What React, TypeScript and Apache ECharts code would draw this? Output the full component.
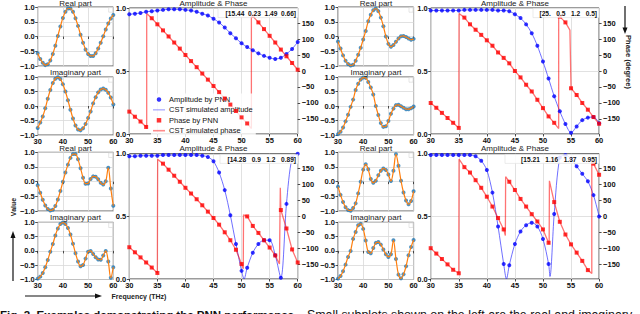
import React, { useEffect, useRef } from "react";
import * as echarts from "echarts";

// ---------- data ----------
const freq = [30,31,32,33,34,35,36,37,38,39,40,41,42,43,44,45,46,47,48,49,50,51,52,53,54,55,56,57,58,59,60];

// Panel A (top-left)
const realA = [-0.57,-0.76,-0.89,-0.97,-0.94,-0.81,-0.59,-0.31,0.02,0.34,0.63,0.84,0.95,0.95,0.84,0.62,0.36,0.06,-0.21,-0.44,-0.59,-0.66,-0.66,-0.57,-0.41,-0.21,0.01,0.24,0.44,0.61,0.73];
const imagA = [-0.76,-0.57,-0.36,-0.08,0.25,0.55,0.79,0.94,0.99,0.93,0.75,0.50,0.20,-0.13,-0.43,-0.67,-0.81,-0.84,-0.77,-0.62,-0.41,-0.19,0.09,0.30,0.47,0.57,0.60,0.56,0.46,0.29,0.05];
const ampA = [0.95,0.955,0.96,0.97,0.975,0.98,0.985,0.99,0.99,0.99,0.985,0.98,0.97,0.955,0.94,0.915,0.885,0.845,0.80,0.76,0.72,0.69,0.665,0.64,0.62,0.605,0.595,0.605,0.635,0.675,0.73];
const phaseA = [-127,-143,-158,-175,165,146,127,108,89,70,50,31,12,-8,-27,-47,-66,-86,-105,-125,-145,-164,172,152,131,110,89,67,46,25,4];
const ampExtraA: number[][] = [];
const phaseExtraA = [[33.1,-180],[33.1,180],[51.75,-180],[51.75,180]];
const paramsA = "[15.44  0.23  1.49  0.66]";

// Panel B (top-right)
const realB = [-0.17,-0.41,-0.64,-0.82,-0.93,-0.98,-0.96,-0.82,-0.62,-0.38,-0.10,0.19,0.52,0.74,0.89,0.95,0.86,0.64,0.35,0.0,-0.25,-0.35,-0.29,-0.18,-0.07,0.01,0.02,-0.02,-0.07,-0.11,-0.08];
const imagB = [-0.97,-0.89,-0.74,-0.53,-0.30,-0.03,0.22,0.55,0.77,0.91,0.98,0.97,0.83,0.64,0.40,0.0,-0.31,-0.59,-0.72,-0.70,-0.52,-0.27,-0.09,0.03,0.04,-0.01,-0.06,-0.11,-0.11,-0.08,-0.02];
const ampB = [0.98,0.98,0.98,0.98,0.98,0.98,0.985,0.985,0.985,0.985,0.985,0.985,0.98,0.98,0.975,0.95,0.92,0.87,0.80,0.70,0.575,0.44,0.30,0.18,0.08,0.01,0.06,0.11,0.13,0.135,0.085];
const phaseB = [-100,-115,-131,-147,-162,-178,167,146,129,113,96,79,58,41,24,0,-20,-43,-64,-90,-116,-142,-162,170,152,-54,-75,-100,-121,-144,-165];
const ampExtraB: number[][] = [];
const phaseExtraB = [[35.05,-180],[35.05,180],[52.8,-180],[52.8,180],[54.8,128]];
const paramsB = "[25.   0.5   1.2   0.5]";

// Panel C (bottom-left)
const realC = [-0.12,-0.38,-0.62,-0.81,-0.93,-0.98,-0.96,-0.83,-0.61,-0.32,0.0,0.31,0.58,0.81,0.94,0.94,0.76,0.46,0.13,-0.07,-0.06,0.09,0.18,0.17,0.08,-0.04,-0.10,0.01,0.47,-0.23,-0.82];
const imagC = [-0.97,-0.90,-0.77,-0.57,-0.32,-0.03,0.24,0.54,0.78,0.94,0.99,0.94,0.80,0.57,0.25,-0.08,-0.37,-0.54,-0.49,-0.27,-0.03,0.0,-0.11,-0.22,-0.30,-0.31,-0.16,0.0,-0.37,-0.94,-0.57];
const ampC = [0.98,0.98,0.985,0.985,0.985,0.985,0.99,0.99,0.99,0.99,0.99,0.99,0.99,0.985,0.975,0.94,0.85,0.71,0.51,0.28,0.065,0.09,0.21,0.28,0.31,0.31,0.19,0.01,0.60,0.97,1.0];
const phaseC = [-97,-113,-129,-145,-161,-178,166,147,128,109,90,72,54,35,15,-5,-26,-50,-75,-105,-150,0,-30,-52,-75,-98,-123,20,-38,-104,-145];
const ampExtraC = [[50.45,0.0]];
const phaseExtraC = [[35.05,-180],[35.05,180],[50.3,-165],[50.35,5],[56.75,-150],[56.9,90]];
const paramsC = "[14.28   0.9   1.2   0.89]";

// Panel D (bottom-right)
const realD = [-0.17,-0.45,-0.69,-0.87,-0.97,-0.99,-0.90,-0.74,-0.40,0.0,0.41,0.59,0.42,0.09,-0.04,0.03,0.22,0.37,0.45,0.40,0.24,0.02,0.37,0.93,0.54,0.03,-0.37,-0.64,-0.77,-0.66,-0.33];
const imagD = [-0.97,-0.88,-0.71,-0.48,-0.21,0.0,0.42,0.66,0.90,0.945,0.77,0.36,-0.04,-0.08,0.10,0.28,0.31,0.22,0.05,-0.12,-0.21,-0.12,0.37,-0.28,-0.83,-0.96,-0.82,-0.54,-0.15,0.14,0.38];
const ampD = [0.99,0.99,0.99,0.99,0.99,0.99,0.99,0.99,0.98,0.945,0.87,0.69,0.42,0.12,0.11,0.28,0.38,0.43,0.45,0.42,0.32,0.12,0.52,0.97,0.99,0.96,0.90,0.84,0.78,0.67,0.50];
const phaseD = [-100,-117,-134,-151,-168,-179,155,138,114,90,62,31,-5,-41,109,83,55,31,7,-16,-41,-83,45,-17,-57,-88,-114,-140,-169,166,131];
const ampExtraD = [[43.5,0.0],[51.25,0.02]];
const phaseExtraD = [[35.05,-180],[35.05,180],[43.3,-60],[43.35,125],[51.1,-88],[51.15,112],[58.7,-180],[58.7,180]];
const paramsD = "[15.21   1.16   1.37   0.95]";

const phaseTicks = [-150,-100,-50,0,50,100,150];
const legendNames = ["Amplitude by PNN","CST simulated amplitude","Phase by PNN","CST simulated phase"];

// ---------- helpers ----------
const FONT = "Liberation Sans, Arial, sans-serif";
const minus = (v: number, d: number) => (v < 0 ? "\u2212" : "") + Math.abs(v).toFixed(d);

function pairs(xs: number[], ys: number[]) {
  return xs.map((x, i) => [x, ys[i]]);
}
function merged(xs: number[], ys: number[], extra: number[][]) {
  const all = pairs(xs, ys).concat(extra);
  return all
    .map((p, i) => ({ p, i }))
    .sort((a, b) => a.p[0] - b.p[0] || a.i - b.i)
    .map((o) => o.p);
}

const panels = [
  { real: realA, imag: imagA, amp: ampA, phase: phaseA, ampX: ampExtraA, phX: phaseExtraA, params: paramsA,
    sx: 37.7, lx: 129.3, ry: 7, rh: 59, iy: 77, ih: 58, ly: 8, lh: 126, legend: true,
    box: [218, 8.6, 80, 9] },
  { real: realB, imag: imagB, amp: ampB, phase: phaseB, ampX: ampExtraB, phX: phaseExtraB, params: paramsB,
    sx: 338, lx: 430.7, ry: 7, rh: 59, iy: 77, ih: 58, ly: 8, lh: 126, legend: false,
    box: [533, 8.6, 66, 9] },
  { real: realC, imag: imagC, amp: ampC, phase: phaseC, ampX: ampExtraC, phX: phaseExtraC, params: paramsC,
    sx: 37.7, lx: 129.3, ry: 152.3, rh: 58.7, iy: 222.3, ih: 57.2, ly: 153.8, lh: 125.2, legend: false,
    box: [220, 154.4, 78, 9] },
  { real: realD, imag: imagD, amp: ampD, phase: phaseD, ampX: ampExtraD, phX: phaseExtraD, params: paramsD,
    sx: 338, lx: 430.7, ry: 152.3, rh: 58.7, iy: 222.3, ih: 57.2, ly: 153.8, lh: 125.2, legend: false,
    box: [505, 154.4, 94, 9] },
];

function buildOption() {
  const grid: any[] = [];
  const xAxis: any[] = [];
  const yAxis: any[] = [];
  const series: any[] = [];
  const graphic: any[] = [];
  const tickLabel = { fontSize: 7.5, fontWeight: "bold", fontFamily: FONT, color: "#111" };
  const split = { show: true, lineStyle: { color: "#d9d9d9", width: 0.8 } };
  const tick = { show: true, inside: false, length: 2.5, lineStyle: { color: "#222", width: 0.8 } };

  panels.forEach((P, p) => {
    const g0 = p * 3;
    const y0 = p * 4;
    const smallW = 75.6;
    const largeW = 168.4;
    grid.push({ left: P.sx, top: P.ry, width: smallW, height: P.rh, show: true, borderColor: "#333", borderWidth: 0.8, backgroundColor: "transparent" });
    grid.push({ left: P.sx, top: P.iy, width: smallW, height: P.ih, show: true, borderColor: "#333", borderWidth: 0.8, backgroundColor: "transparent" });
    grid.push({ left: P.lx, top: P.ly, width: largeW, height: P.lh, show: true, borderColor: "#222", borderWidth: 0.9, backgroundColor: "transparent" });

    [0, 1].forEach((k) => {
      xAxis.push({
        type: "value", gridIndex: g0 + k, min: 30, max: 60, interval: 10,
        axisLine: { show: false }, axisTick: tick, splitLine: split,
        axisLabel: { show: k === 1, margin: 2, ...tickLabel },
      });
      yAxis.push({
        type: "value", gridIndex: g0 + k, min: -1, max: 1, interval: 0.5,
        axisLine: { show: false }, axisTick: tick, splitLine: split,
        axisLabel: { margin: 3, formatter: (v: number) => minus(v, 1), ...tickLabel },
      });
    });
    xAxis.push({
      type: "value", gridIndex: g0 + 2, min: 30, max: 60, interval: 5,
      axisLine: { show: false }, axisTick: tick, splitLine: split,
      axisLabel: { margin: 2, ...tickLabel },
    });
    yAxis.push({
      type: "value", gridIndex: g0 + 2, min: 0, max: 1, interval: 0.5, position: "left",
      axisLine: { show: false }, axisTick: tick, splitLine: split,
      axisLabel: { margin: 3, formatter: (v: number) => v.toFixed(1), ...tickLabel },
    });
    yAxis.push({
      type: "value", gridIndex: g0 + 2, min: -197, max: 197, position: "right",
      axisLine: { show: false },
      axisTick: { ...tick, customValues: phaseTicks },
      splitLine: { show: false },
      axisLabel: { margin: 4, customValues: phaseTicks, formatter: (v: number) => minus(v, 0), ...tickLabel },
    });

    // small plots: CST (orange line) + PNN (blue dots)
    [P.real, P.imag].forEach((arr, k) => {
      series.push({
        type: "scatter", xAxisIndex: g0 + k, yAxisIndex: y0 + k, data: pairs(freq, arr),
        symbol: "circle", symbolSize: 4, itemStyle: { color: "#1f77b4" }, z: 2, silent: true,
      });
      series.push({
        type: "line", xAxisIndex: g0 + k, yAxisIndex: y0 + k, data: pairs(freq, arr),
        smooth: 0.35, showSymbol: false, lineStyle: { color: "#ff7f0e", width: 1.2 }, z: 3, silent: true,
      });
    });

    const nm = (i: number) => (P.legend ? legendNames[i] : legendNames[i] + " " + p);
    series.push({
      name: nm(1), type: "line", xAxisIndex: g0 + 2, yAxisIndex: y0 + 2,
      data: merged(freq, P.amp, P.ampX), smooth: 0.3, showSymbol: false,
      lineStyle: { color: "rgba(50,50,255,0.7)", width: 1 }, itemStyle: { color: "rgba(80,80,255,0.8)" }, z: 2, silent: true,
    });
    series.push({
      name: nm(0), type: "scatter", xAxisIndex: g0 + 2, yAxisIndex: y0 + 2,
      data: pairs(freq, P.amp), symbol: "circle", symbolSize: 4, itemStyle: { color: "#0000ff" }, z: 4, silent: true,
    });
    series.push({
      name: nm(3), type: "line", xAxisIndex: g0 + 2, yAxisIndex: y0 + 3,
      data: merged(freq, P.phase, P.phX), showSymbol: false,
      lineStyle: { color: "rgba(255,0,0,0.55)", width: 1.3 }, itemStyle: { color: "rgba(255,90,90,0.7)" }, z: 2, silent: true,
    });
    series.push({
      name: nm(2), type: "scatter", xAxisIndex: g0 + 2, yAxisIndex: y0 + 3,
      data: pairs(freq, P.phase), symbol: "rect", symbolSize: 4, itemStyle: { color: "#ff0000" }, z: 4, silent: true,
    });

    // parameter annotation box
    const [bx, by, bw, bh] = P.box;
    graphic.push({
      type: "rect", shape: { x: bx, y: by, width: bw, height: bh }, z: 20,
      style: { fill: "rgba(255,255,255,0.85)", stroke: "#dddddd", lineWidth: 0.6 },
    });
    graphic.push({
      type: "text", x: bx + bw - 2, y: by + bh / 2 + 0.3, z: 21,
      style: { text: P.params, fontSize: 6.6, fontWeight: "bold", fontFamily: FONT, fill: "#111", textAlign: "right", textVerticalAlign: "middle" },
    });
    // tiny empty legend boxes in the small plots
    [P.ry, P.iy].forEach((ty) => {
      graphic.push({
        type: "rect", shape: { x: P.sx + smallW - 4.6, y: ty + 0.6, width: 4, height: 4.6 }, z: 20,
        style: { fill: "#fff", stroke: "#cccccc", lineWidth: 0.5 },
      });
    });
  });

  const T = (text: string, x: number, y: number, size = 8, weight = "normal", extra: any = {}) => ({
    type: "text", x, y, z: 30, ...extra,
    style: { text, fontSize: size, fontWeight: weight, fontFamily: FONT, fill: "#222", textAlign: "center", textVerticalAlign: "middle" },
  });
  // titles and axis names
  graphic.push(T("Real part", 75.5, 3.8));
  graphic.push(T("Imaginary part", 75.5, 72));
  graphic.push(T("Amplitude & Phase", 213.5, 3.8));
  graphic.push(T("Real part", 376, 3.8));
  graphic.push(T("Imaginary part", 376, 72));
  graphic.push(T("Amplitude & Phase", 515, 3.8));
  graphic.push(T("Real part", 75.5, 148.8));
  graphic.push(T("Amplitude & Phase", 213.5, 148.6));
  graphic.push(T("Real part", 376, 148.8));
  graphic.push(T("Amplitude & Phase", 515, 148.6));
  graphic.push(T("Imaginary part", 75.5, 217));
  graphic.push(T("Imaginary part", 376, 217));
  graphic.push(T("Frequency (THz)", 139, 296, 7, "bold"));
  graphic.push(T("Value", 13, 207, 7, "bold", { rotation: Math.PI / 2 }));
  graphic.push(T("Phase (degree)", 628, 62, 7.5, "bold", { rotation: -Math.PI / 2 }));

  // arrows
  const arrowStyle = { stroke: "#111", lineWidth: 1.2 };
  graphic.push({ type: "line", shape: { x1: 25, y1: 296, x2: 96, y2: 296 }, style: arrowStyle, z: 30 });
  graphic.push({ type: "polygon", shape: { points: [[102, 296], [95, 293.5], [95, 298.5]] }, style: { fill: "#111" }, z: 30 });
  graphic.push({ type: "line", shape: { x1: 13, y1: 281, x2: 13, y2: 238 }, style: arrowStyle, z: 30 });
  graphic.push({ type: "polygon", shape: { points: [[13, 231], [10.5, 238], [15.5, 238]] }, style: { fill: "#111" }, z: 30 });
  graphic.push({ type: "line", shape: { x1: 625, y1: 6, x2: 625, y2: 28 }, style: arrowStyle, z: 30 });
  graphic.push({ type: "polygon", shape: { points: [[625, 34], [622.5, 27.5], [627.5, 27.5]] }, style: { fill: "#111" }, z: 30 });

  // caption (cut off at the bottom of the picture, as in the reference)
  graphic.push({
    type: "text", x: 0, y: 309, z: 30,
    style: { text: "Fig. 2. Examples demonstrating the PNN performance.", fontSize: 11.5, fontWeight: "bold", fontFamily: FONT, fill: "#111", textAlign: "left", textVerticalAlign: "top" },
  });
  graphic.push({
    type: "text", x: 307, y: 309, z: 30,
    style: { text: "Small subplots shown on the left are the real and imaginary", fontSize: 12.4, fontWeight: "normal", fontFamily: FONT, fill: "#111", textAlign: "left", textVerticalAlign: "top" },
  });

  return {
    animation: false,
    backgroundColor: "#ffffff",
    grid, xAxis, yAxis, series, graphic,
    legend: {
      data: [
        { name: legendNames[0], icon: "circle" },
        { name: legendNames[1], icon: "path://M0,0H30V2H0Z" },
        { name: legendNames[2], icon: "path://M0,0H10V10H0Z" },
        { name: legendNames[3], icon: "path://M0,0H30V4H0Z" },
      ],
      orient: "vertical", left: 151, top: 93.5, itemWidth: 12, itemHeight: 4.5, itemGap: 2.4,
      symbolKeepAspect: true, selectedMode: false,
      textStyle: { fontSize: 7.5, fontFamily: FONT, color: "#111", padding: [0, 0, 0, -1] },
      backgroundColor: "rgba(255,255,255,0.8)", padding: [2, 3, 2, 2], borderWidth: 0,
    },
  };
}

export default function App() {
  const ref = useRef<HTMLDivElement>(null);
  useEffect(() => {
    if (!ref.current) return;
    const chart = echarts.init(ref.current, undefined, { renderer: "svg" });
    chart.setOption(buildOption() as any);
    return () => chart.dispose();
  }, []);
  return (
    <div
      ref={ref}
      style={{ position: "fixed", left: 0, top: 0, width: 640, height: 314, background: "#fff" }}
    />
  );
}
